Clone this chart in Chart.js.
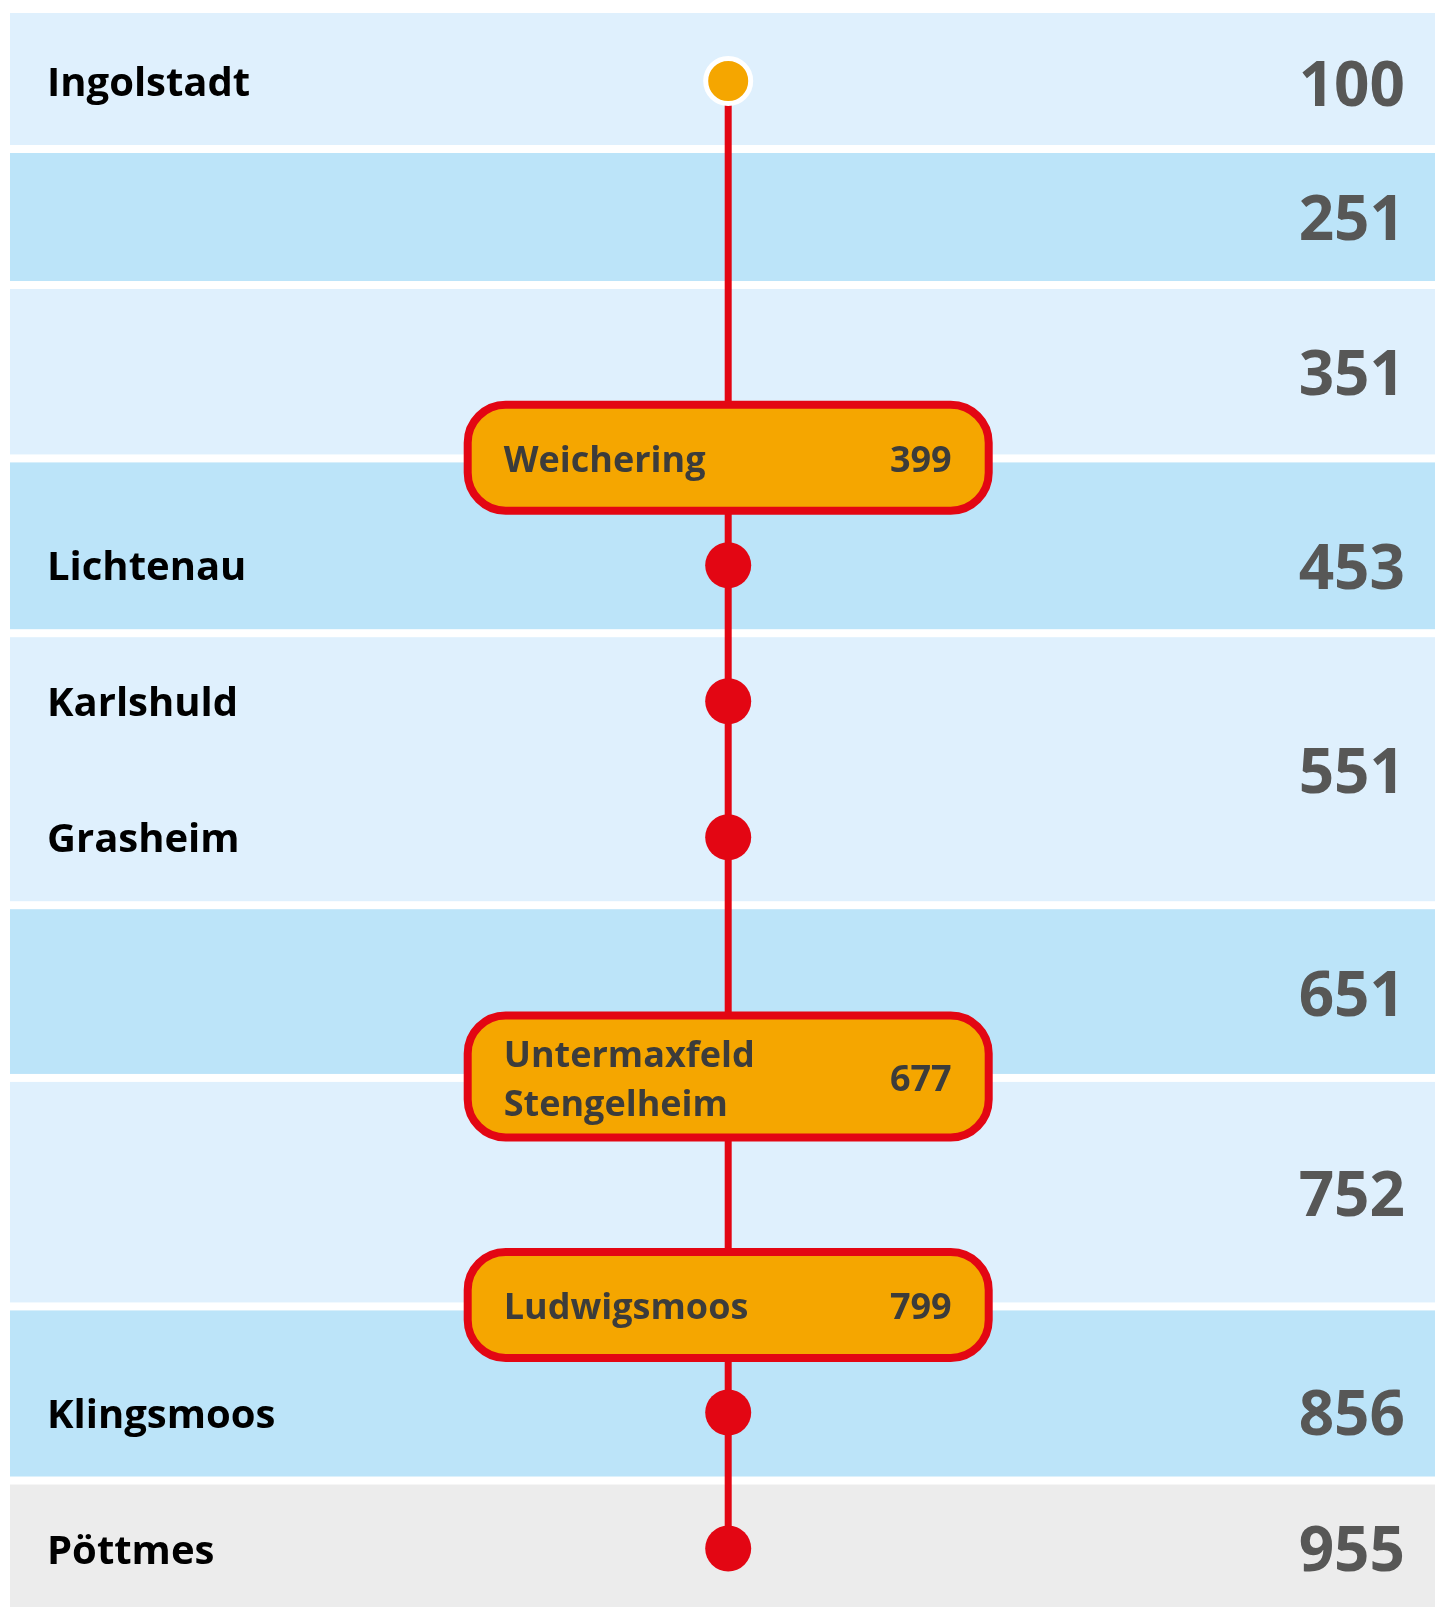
<!DOCTYPE html>
<html>
<head>
<meta charset="utf-8">
<script src="https://cdn.jsdelivr.net/npm/chart.js@4/dist/chart.umd.min.js"></script>
<style>
html,body{margin:0;padding:0;background:#ffffff;}
canvas{display:block;}
</style>
</head>
<body>
<canvas id="c" width="1435" height="1607"></canvas>
<script>
// ---- DATA ----
// stations from top to bottom
const stationNames = ['Ingolstadt', 'Weichering', 'Lichtenau', 'Karlshuld', 'Grasheim',
  'Untermaxfeld\nStengelheim', 'Ludwigsmoos', 'Klingsmoos', 'Pöttmes'];
// schematic position along the line (one unit = one regular station spacing)
const stationPos = [0.50, 3.27, 4.06, 5.06, 6.06, 7.82, 9.50, 10.29, 11.29];
// station kind: start dot, regular stop, or boxed transfer station
const stationKind = ['start', 'box', 'stop', 'stop', 'stop', 'box', 'box', 'stop', 'stop'];
// numbers shown inside the boxed stations
const boxCodes = [null, 399, null, null, null, 677, 799, null, null];

// zones (bands) with their numbers, top to bottom
const zoneCodes = [100, 251, 351, 453, 551, 651, 752, 856, 955];
const zoneStart = [0.00, 1.00, 2.00, 3.275, 4.56, 6.56, 7.83, 9.51, 10.79];
const zoneEnd   = [1.00, 2.00, 3.275, 4.56, 6.56, 7.83, 9.51, 10.79, 11.72];
const zoneLabelPos = [0.52, 1.51, 2.65, 4.07, 5.57, 7.21, 8.68, 10.29, 11.29];

// ---- STYLE ----
const RED = '#E30613';
const ORANGE = '#F5A600';
const LIGHT = '#DFF0FD';
const DARK = '#BCE4F9';
const GRAY = '#ECECEC';
const FONT = '"Open Sans", "Noto Sans", sans-serif';
const trackX = 0.504;       // horizontal place of the line inside the plot (0..1)
const GAP = 8;              // white gap between zone bands

function zoneFill(i) {
  if (i === zoneCodes.length - 1) return GRAY;
  return i % 2 === 0 ? LIGHT : DARK;
}

const routePlugin = {
  id: 'route',
  beforeDatasetsDraw(chart) {
    const { ctx, scales: { x, y } } = chart;
    ctx.save();
    const x0 = x.getPixelForValue(0), x1 = x.getPixelForValue(1);
    zoneCodes.forEach((code, i) => {
      const top = y.getPixelForValue(zoneStart[i]) + (i === 0 ? 0 : GAP / 2);
      const bot = y.getPixelForValue(zoneEnd[i]) - (i === zoneCodes.length - 1 ? 0 : GAP / 2);
      ctx.fillStyle = zoneFill(i);
      ctx.fillRect(x0, top, x1 - x0, bot - top);
    });
    ctx.restore();
  },
  afterDatasetsDraw(chart) {
    const { ctx, chartArea: a, scales: { x, y } } = chart;
    ctx.save();
    const cx = x.getPixelForValue(trackX);

    // boxed stations
    stationNames.forEach((name, i) => {
      if (stationKind[i] !== 'box') return;
      const lines = name.split('\n');
      const cy = y.getPixelForValue(stationPos[i]);
      const outerW = 529, outerH = lines.length > 1 ? 130 : 114, bw = 8;
      const left = cx - 264.5;
      ctx.beginPath();
      ctx.roundRect(left + bw / 2, cy - outerH / 2 + bw / 2, outerW - bw, outerH - bw, 38);
      ctx.fillStyle = ORANGE;
      ctx.fill();
      ctx.lineWidth = bw;
      ctx.strokeStyle = RED;
      ctx.stroke();

      ctx.fillStyle = '#3C3C3B';
      ctx.font = '700 36px ' + FONT;
      ctx.textBaseline = 'alphabetic';
      ctx.textAlign = 'left';
      if (lines.length === 1) {
        ctx.fillText(lines[0], left + 40, cy + 14);
      } else {
        ctx.fillText(lines[0], left + 40, cy - 10);
        ctx.fillText(lines[1], left + 40, cy + 39);
      }
      ctx.textAlign = 'right';
      ctx.fillText(String(boxCodes[i]), left + outerW - 41, cy + 14);
    });

    // station names on the left
    ctx.fillStyle = '#000000';
    ctx.font = '700 40px ' + FONT;
    ctx.textAlign = 'left';
    ctx.textBaseline = 'alphabetic';
    stationNames.forEach((name, i) => {
      if (stationKind[i] === 'box') return;
      const cy = y.getPixelForValue(stationPos[i]);
      ctx.fillText(name, a.left + 37, cy + 15);
    });

    // zone numbers on the right
    ctx.fillStyle = '#575756';
    ctx.font = '700 62px ' + FONT;
    ctx.textAlign = 'right';
    zoneCodes.forEach((code, i) => {
      const cy = y.getPixelForValue(zoneLabelPos[i]);
      ctx.fillText(String(code), a.right - 30, cy + 22);
    });
    ctx.restore();
  }
};

function build() {
  const pts = stationPos.map(p => ({ x: trackX, y: p }));
  new Chart(document.getElementById('c'), {
    type: 'scatter',
    data: {
      datasets: [{
        data: pts,
        showLine: true,
        borderColor: RED,
        borderWidth: 7,
        pointRadius: stationKind.map(k => k === 'box' ? 0 : (k === 'start' ? 22.5 : 23)),
        pointBackgroundColor: stationKind.map(k => k === 'start' ? ORANGE : RED),
        pointBorderColor: stationKind.map(k => k === 'start' ? '#FFFFFF' : RED),
        pointBorderWidth: stationKind.map(k => k === 'start' ? 5 : 0),
        pointHoverRadius: 0,
        clip: false
      }]
    },
    options: {
      responsive: false,
      animation: false,
      events: [],
      layout: { autoPadding: false, padding: { left: 10, top: 13, right: 0, bottom: 0 } },
      plugins: { legend: { display: false }, tooltip: { enabled: false } },
      scales: {
        x: { type: 'linear', min: 0, max: 1, display: false },
        y: { type: 'linear', min: 0, max: 11.72, reverse: true, display: false }
      }
    },
    plugins: [routePlugin]
  });
}

if (document.fonts && document.fonts.load) {
  Promise.all([
    document.fonts.load('700 40px "Open Sans"'),
    document.fonts.load('700 62px "Open Sans"')
  ]).then(build, build);
} else {
  build();
}
</script>
</body>
</html>
